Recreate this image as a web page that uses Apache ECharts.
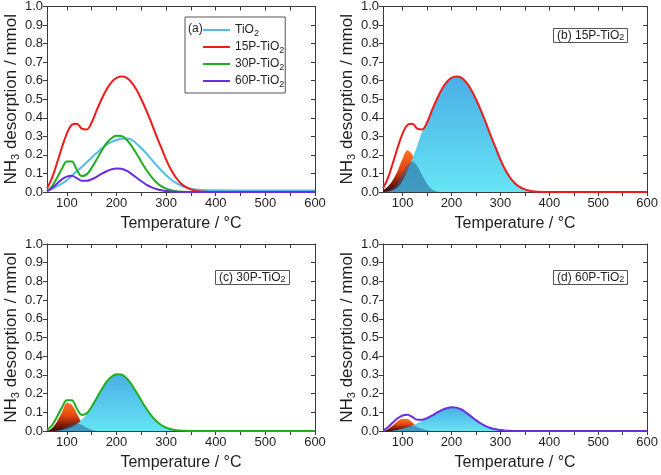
<!DOCTYPE html>
<html>
<head>
<meta charset="utf-8">
<script src="https://cdn.jsdelivr.net/npm/echarts@6/dist/echarts.min.js"></script>
<style>
  html, body { margin: 0; padding: 0; background: #fff; }
  #chart { width: 661px; height: 475px; }
</style>
</head>
<body>
<div id="chart"></div>
<script>
// temperature grid (°C) shared by every curve
const temps = [60, 70, 80, 90, 100, 110, 120, 130, 140, 150, 160, 170, 180, 190, 200, 210, 220, 230, 240, 250,
  260, 270, 280, 290, 300, 310, 320, 330, 340, 350, 360, 370, 380, 390, 400, 500, 600];

// (a) envelopes, mmol
const tio2 = [0.006, 0.017, 0.03, 0.045, 0.063, 0.088, 0.113, 0.135, 0.16, 0.185, 0.21, 0.234, 0.255, 0.27, 0.28, 0.287, 0.288, 0.282, 0.262, 0.237,
  0.208, 0.177, 0.146, 0.117, 0.09, 0.067, 0.049, 0.035, 0.025, 0.018, 0.014, 0.011, 0.01, 0.009, 0.009, 0.008, 0.008];
const p15 = [0.02, 0.075, 0.155, 0.24, 0.315, 0.362, 0.368, 0.342, 0.337, 0.375, 0.44, 0.5, 0.552, 0.592, 0.615, 0.623, 0.616, 0.592, 0.552, 0.5,
  0.44, 0.375, 0.305, 0.24, 0.175, 0.12, 0.077, 0.046, 0.026, 0.014, 0.007, 0.003, 0.001, 0, 0, 0, 0];
const p30 = [0.005, 0.03, 0.075, 0.125, 0.165, 0.165, 0.12, 0.086, 0.095, 0.13, 0.175, 0.222, 0.263, 0.29, 0.303, 0.302, 0.283, 0.25, 0.208, 0.163,
  0.12, 0.083, 0.053, 0.032, 0.018, 0.009, 0.004, 0.002, 0.001, 0, 0, 0, 0, 0, 0, 0, 0];
const p60 = [0.003, 0.02, 0.045, 0.068, 0.083, 0.087, 0.075, 0.06, 0.06, 0.069, 0.082, 0.098, 0.112, 0.122, 0.127, 0.125, 0.115, 0.098, 0.078, 0.058,
  0.04, 0.026, 0.016, 0.009, 0.005, 0.002, 0.001, 0, 0, 0, 0, 0, 0, 0, 0, 0, 0];

// (b)-(d) fitted peaks, each starting at 60 °C
const b15Low = [0.01, 0.03, 0.065, 0.115, 0.18, 0.225, 0.2, 0.13, 0.06, 0.02, 0.005, 0];
const b15Mid = [0, 0.005, 0.02, 0.05, 0.1, 0.145, 0.165, 0.14, 0.09, 0.045, 0.015, 0.003, 0];
const b15High = [0, 0.003, 0.01, 0.025, 0.06, 0.115, 0.18, 0.25, 0.325, 0.37, 0.435, 0.5, 0.552, 0.592, 0.615, 0.623, 0.616, 0.592, 0.552, 0.5,
  0.44, 0.375, 0.305, 0.24, 0.175, 0.12, 0.077, 0.046, 0.026, 0.014, 0.007, 0.003, 0.001, 0];
const c30Low = [0, 0.015, 0.05, 0.1, 0.15, 0.14, 0.095, 0.045, 0.015, 0.003, 0];
const c30Mid = [0, 0, 0, 0.01, 0.025, 0.038, 0.042, 0.033, 0.018, 0.007, 0];
const c30High = [0, 0, 0.002, 0.006, 0.012, 0.022, 0.037, 0.06, 0.09, 0.128, 0.172, 0.22, 0.262, 0.29, 0.303, 0.302, 0.283, 0.25, 0.208, 0.163,
  0.12, 0.083, 0.053, 0.032, 0.018, 0.009, 0.004, 0.002, 0.001, 0];
const d60Low = [0, 0.01, 0.03, 0.052, 0.065, 0.064, 0.045, 0.022, 0.008, 0.002, 0];
const d60Mid = [0, 0, 0, 0.006, 0.015, 0.025, 0.028, 0.022, 0.012, 0.004, 0];
const d60High = [0, 0, 0.002, 0.006, 0.012, 0.02, 0.03, 0.042, 0.055, 0.068, 0.082, 0.098, 0.112, 0.122, 0.127, 0.125, 0.115, 0.098, 0.078, 0.058,
  0.04, 0.026, 0.016, 0.009, 0.005, 0.002, 0.001, 0];

const xLabels = [100, 200, 300, 400, 500, 600];
const xTicks = [100, 150, 200, 250, 300, 350, 400, 450, 500, 550, 600];
const legendNames = ["TiO2", "15P-TiO2", "30P-TiO2", "60P-TiO2"];

const FONT = '"Liberation Sans", Arial, sans-serif';
const AXIS = "#3a3a3a";
const TEXT = "#1e1e1e";
const colors = { tio2: "#52bdea", p15: "#f01a1a", p30: "#1fae1f", p60: "#6a2de0" };

const grids = [
  { left: 47, top: 6, width: 268, height: 186 },
  { left: 383, top: 6, width: 267, height: 186 },
  { left: 47, top: 244, width: 268, height: 187 },
  { left: 383, top: 244, width: 267, height: 187 }
];

const pts = arr => arr.map((v, i) => [temps[i], v]);
const sub = s => s.replace("TiO2", "TiO{sub|2}");
const subRich = { sub: { fontSize: 9, verticalAlign: "bottom", lineHeight: 9, fontFamily: FONT } };

const xAxes = [];
const yAxes = [];
grids.forEach((g, i) => {
  xAxes.push({
    gridIndex: i, type: "value", min: 60, max: 600,
    axisLine: { onZero: false, lineStyle: { color: AXIS } },
    axisTick: { length: 4, customValues: xTicks, lineStyle: { color: AXIS } },
    axisLabel: { customValues: xLabels, fontSize: 13, color: TEXT, margin: 5, fontFamily: FONT },
    splitLine: { show: false },
    name: "Temperature / °C", nameLocation: "middle", nameGap: 24,
    nameTextStyle: { fontSize: 16, color: TEXT, fontFamily: FONT }
  });
  xAxes.push({
    gridIndex: i, type: "value", position: "top", min: 60, max: 600,
    axisLine: { onZero: false, lineStyle: { color: AXIS } },
    axisTick: { inside: true, length: 4, customValues: xTicks, lineStyle: { color: AXIS } },
    axisLabel: { show: false },
    splitLine: { show: false }
  });
  yAxes.push({
    gridIndex: i, type: "value", min: 0, max: 1, interval: 0.1,
    axisLine: { show: true, onZero: false, lineStyle: { color: AXIS } },
    axisTick: { show: true, length: 4, lineStyle: { color: AXIS } },
    axisLabel: { formatter: v => v.toFixed(1), fontSize: 13, color: TEXT, margin: 4, fontFamily: FONT },
    splitLine: { show: false },
    name: "NH{sub|3} desorption / mmol", nameLocation: "middle", nameGap: 25, nameRotate: 90,
    nameTextStyle: { fontSize: 17, color: TEXT, lineHeight: 20, fontFamily: FONT,
      rich: { sub: { fontSize: 11, verticalAlign: "bottom", lineHeight: 11, fontFamily: FONT } } }
  });
  yAxes.push({
    gridIndex: i, type: "value", position: "right", min: 0, max: 1, interval: 0.1,
    axisLine: { show: true, onZero: false, lineStyle: { color: AXIS } },
    axisTick: { show: true, inside: true, length: 4, lineStyle: { color: AXIS } },
    axisLabel: { show: false },
    splitLine: { show: false }
  });
});

const bigFill = () => new echarts.graphic.LinearGradient(0, 0, 0, 1, [
  { offset: 0, color: "#4aaee6" },
  { offset: 1, color: "#66e4f4" }
]);
const orangeFill = () => new echarts.graphic.LinearGradient(0, 0, 0, 1, [
  { offset: 0, color: "#ff7322" },
  { offset: 0.45, color: "#e3490f" },
  { offset: 0.75, color: "#8c1f08" },
  { offset: 1, color: "#3c0505" }
]);

const line = (name, data, color, panel) => ({
  name, type: "line", xAxisIndex: panel * 2, yAxisIndex: panel * 2, data: pts(data),
  color, showSymbol: false, smooth: 0.35, silent: true, animation: false, z: 5,
  lineStyle: { width: 2, color }
});
const area = (name, data, fill, panel, z) => ({
  name, type: "line", xAxisIndex: panel * 2, yAxisIndex: panel * 2, data: pts(data),
  showSymbol: false, smooth: 0.35, silent: true, animation: false, z,
  lineStyle: { width: 0 }, areaStyle: { color: fill, opacity: 1 }
});

const series = [
  line("TiO2", tio2, colors.tio2, 0),
  line("15P-TiO2", p15, colors.p15, 0),
  line("30P-TiO2", p30, colors.p30, 0),
  line("60P-TiO2", p60, colors.p60, 0),

  area("b low", b15Low, orangeFill(), 1, 2),
  area("b high", b15High, bigFill(), 1, 3),
  area("b mid", b15Mid, "rgba(35,95,150,0.55)", 1, 4),
  line("b 15P-TiO2", p15, colors.p15, 1),

  area("c low", c30Low, orangeFill(), 2, 2),
  area("c high", c30High, bigFill(), 2, 3),
  area("c mid", c30Mid, "rgba(35,95,150,0.55)", 2, 4),
  line("c 30P-TiO2", p30, colors.p30, 2),

  area("d low", d60Low, orangeFill(), 3, 2),
  area("d high", d60High, bigFill(), 3, 3),
  area("d mid", d60Mid, "rgba(35,95,150,0.55)", 3, 4),
  line("d 60P-TiO2", p60, colors.p60, 3)
];

const panelTitle = (text, left, top) => ({
  text: sub(text), left, top,
  borderColor: "#555", borderWidth: 1, padding: [1, 4, 1, 4],
  textStyle: { fontSize: 12, fontWeight: "normal", color: TEXT, lineHeight: 13, fontFamily: FONT, rich: subRich }
});

const option = {
  animation: false,
  textStyle: { fontFamily: FONT },
  title: [
    panelTitle("(b) 15P-TiO2", 553, 28),
    panelTitle("(c) 30P-TiO2", 215, 270),
    panelTitle("(d) 60P-TiO2", 553, 270)
  ],
  legend: {
    data: legendNames, orient: "vertical", left: 185, top: 17,
    padding: [5, 1, 4, 18], itemGap: 1, itemWidth: 27, itemHeight: 2, icon: "rect",
    borderColor: "#555", borderWidth: 1, selectedMode: false,
    formatter: sub,
    textStyle: { fontSize: 12, color: TEXT, lineHeight: 16, fontFamily: FONT, rich: subRich }
  },
  graphic: [
    { type: "text", left: 188, top: 23, style: { text: "(a)", fontSize: 12, fill: TEXT, fontFamily: FONT } }
  ],
  grid: grids,
  xAxis: xAxes,
  yAxis: yAxes,
  series
};

const chart = echarts.init(document.getElementById("chart"), null, { renderer: "canvas" });
chart.setOption(option);
</script>
</body>
</html>
